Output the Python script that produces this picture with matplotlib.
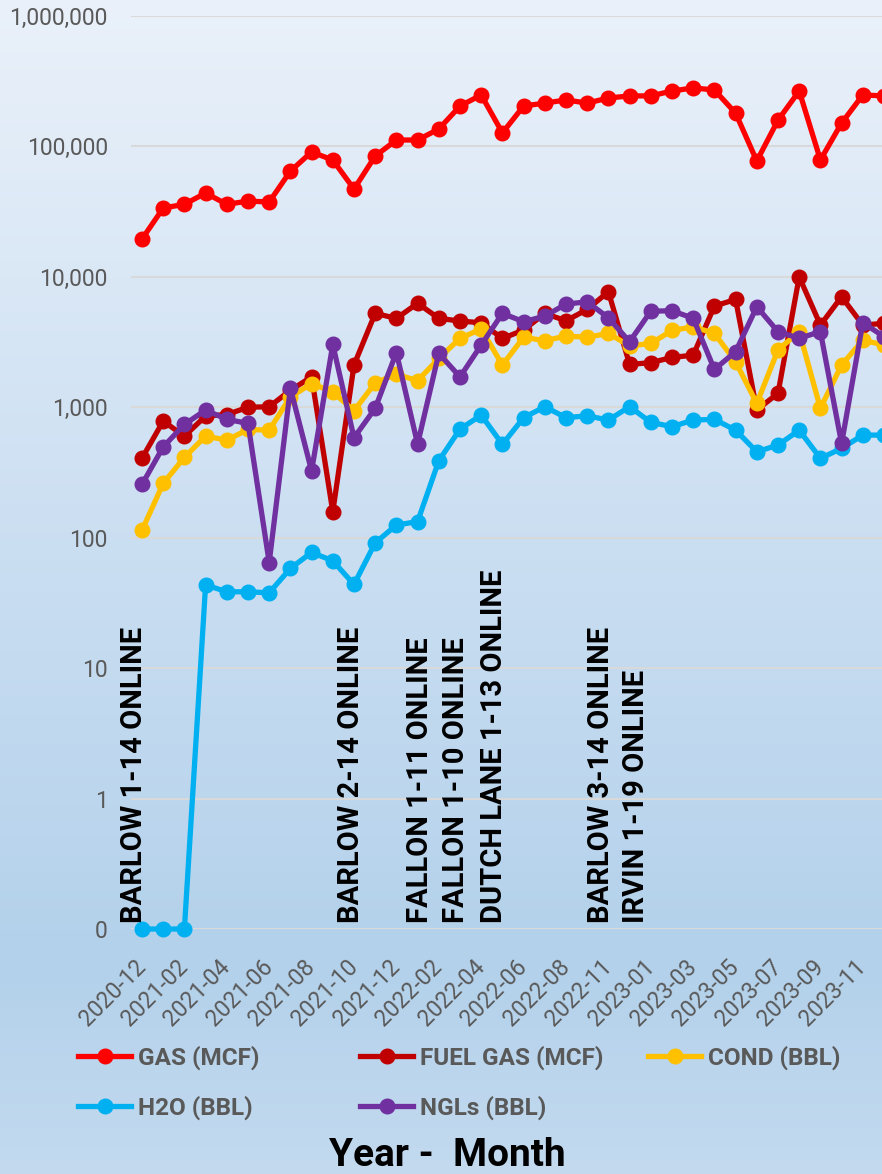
import numpy as np
import matplotlib
matplotlib.use("Agg")
import matplotlib.pyplot as plt
from matplotlib.ticker import FixedLocator, FuncFormatter, NullLocator
from matplotlib.lines import Line2D

plt.rcParams['font.family'] = ['Roboto', 'DejaVu Sans']

# months on the category axis (2022-10 is not in the sheet)
months = (["2020-12"] + ["2021-%02d" % m for m in range(1, 13)]
          + ["2022-%02d" % m for m in range(1, 10)] + ["2022-11", "2022-12"]
          + ["2023-%02d" % m for m in range(1, 13)])

gas = [19500, 33700, 36000, 43900, 36000, 38100, 37500, 64700, 90600, 78700,
       47100, 84400, 112000, 112000, 136000, 204000, 248000, 127000, 204000, 215000,
       227000, 215000, 235000, 244000, 244000, 266000, 281000, 271000, 180000, 77300,
       159000, 266000, 78700, 151000, 248000, 244000]
fuel_gas = [407, 783, 601, 857, 880, 1000, 1010, 1350, 1710, 158,
            2110, 5250, 4800, 6270, 4810, 4580, 4450, 3370, 3910, 5250,
            4600, 5630, 7690, 2130, 2200, 2410, 2510, 5970, 6710, 953,
            1280, 10000, 4270, 7030, 4270, 4400]
cond = [114, 261, 413, 601, 560, 676, 668, 1200, 1520, 1310,
        940, 1540, 1790, 1600, 2370, 3380, 3980, 2110, 3440, 3240,
        3520, 3440, 3690, 2950, 3090, 3880, 4140, 3690, 2230, 1070,
        2750, 3800, 983, 2110, 3270, 3000]
h2o = [0.1, 0.1, 0.1, 43.5, 38.5, 38.5, 37.8, 58.2, 77.1, 66.5,
       43.8, 91.4, 125, 133, 389, 680, 871, 520, 832, 1010,
       832, 861, 798, 1010, 767, 710, 798, 808, 668, 456,
       513, 668, 406, 484, 612, 612]
ngls = [256, 497, 739, 952, 808, 753, 64.5, 1400, 325, 3030,
        584, 983, 2630, 522, 2590, 1710, 3000, 5250, 4530, 5000,
        6180, 6440, 4850, 3180, 5450, 5500, 4810, 1950, 2670, 5900,
        3800, 3380, 3800, 528, 4450, 3480]

series_names = ["GAS (MCF)", "FUEL GAS (MCF)", "COND (BBL)", "H2O (BBL)", "NGLs (BBL)"]
series_colors = ["#FF0000", "#C00000", "#FFC000", "#00B0F0", "#7030A0"]

events = ["BARLOW 1-14 ONLINE", "BARLOW 2-14 ONLINE", "FALLON 1-11 ONLINE",
          "FALLON 1-10 ONLINE", "DUTCH LANE 1-13 ONLINE", "BARLOW 3-14 ONLINE",
          "IRVIN 1-19 ONLINE"]
event_pos = [-0.39, 9.86, 13.11, 14.79, 16.59, 21.64, 23.3]

W, H = 882, 1174
fig = plt.figure(figsize=(W / 100, H / 100), dpi=100)

# background gradient
bg = fig.add_axes([0, 0, 1, 1], zorder=-10)
bg.axis('off')
stops_y = [0, 590, 960, 1174]
stops_c = np.array([[234, 241, 250], [200, 221, 241], [179, 209, 235], [195, 218, 239]]) / 255
yy = np.arange(H)
grad = np.stack([np.interp(yy, stops_y, stops_c[:, k]) for k in range(3)], axis=-1)
bg.imshow(grad[:, None, :], aspect='auto', extent=[0, 1, 0, 1], origin='upper')
bg.set_xlim(0, 1)
bg.set_ylim(0, 1)

step = 21.2
left = 131.4
ax = fig.add_axes([left / W, (H - 929) / H, 37 * step / W, (929 - 16) / H])
ax.patch.set_alpha(0)
x = np.arange(len(months))
for vals, name, col in zip([gas, fuel_gas, cond, h2o, ngls], series_names, series_colors):
    ax.plot(x, vals, color=col, lw=3.8, marker='o', ms=10.5, label=name,
            solid_joinstyle='round', clip_on=False)

ax.set_yscale('log')
ax.set_ylim(0.1, 1e6)
ax.set_xlim(-0.5, 36.5)
ax.yaxis.set_major_locator(FixedLocator([0.1, 1, 10, 100, 1e3, 1e4, 1e5, 1e6]))
ax.yaxis.set_minor_locator(NullLocator())
ax.yaxis.set_major_formatter(FuncFormatter(lambda v, p: "{:,.0f}".format(v)))
ax.grid(axis='y', color='#D9D9D9', lw=1.5)
ax.set_axisbelow(True)
for s in ax.spines.values():
    s.set_visible(False)

ax.set_xticks(x[::2])
ax.set_xticklabels(months[::2], rotation=45, ha='right', va='center',
                   rotation_mode='anchor')
ax.tick_params(axis='x', length=0, pad=25, labelsize=16.5, labelcolor='#595959')
ax.tick_params(axis='y', length=0, pad=17, labelsize=16.5, labelcolor='#595959')

for txt, xp in zip(events, event_pos):
    ax.text(xp, 0.111, txt, rotation=90, ha='center', va='bottom',
            fontsize=21, fontweight='bold', color='black')

# legend, laid out like the spreadsheet (3 equal columns)
leg_pos = [(78, 1058), (360, 1058), (648, 1058), (78, 1108), (360, 1108)]
for (px, py), name, col in zip(leg_pos, series_names, series_colors):
    h = Line2D([], [], color=col, lw=3.8, marker='o', ms=10.5)
    lg = fig.legend([h], [name], loc='center left',
                    bbox_to_anchor=(px / W, (H - py) / H), frameon=False,
                    handlelength=2.2, handletextpad=0.25, borderpad=0, borderaxespad=0,
                    prop={'size': 17.5, 'weight': 'bold'})
    for t in lg.get_texts():
        t.set_color('#595959')

fig.text(447 / W, (H - 1155) / H, "Year -  Month", ha='center', va='center',
         fontsize=28, fontweight='bold', color='black')

fig.savefig("out.png", dpi=100)
